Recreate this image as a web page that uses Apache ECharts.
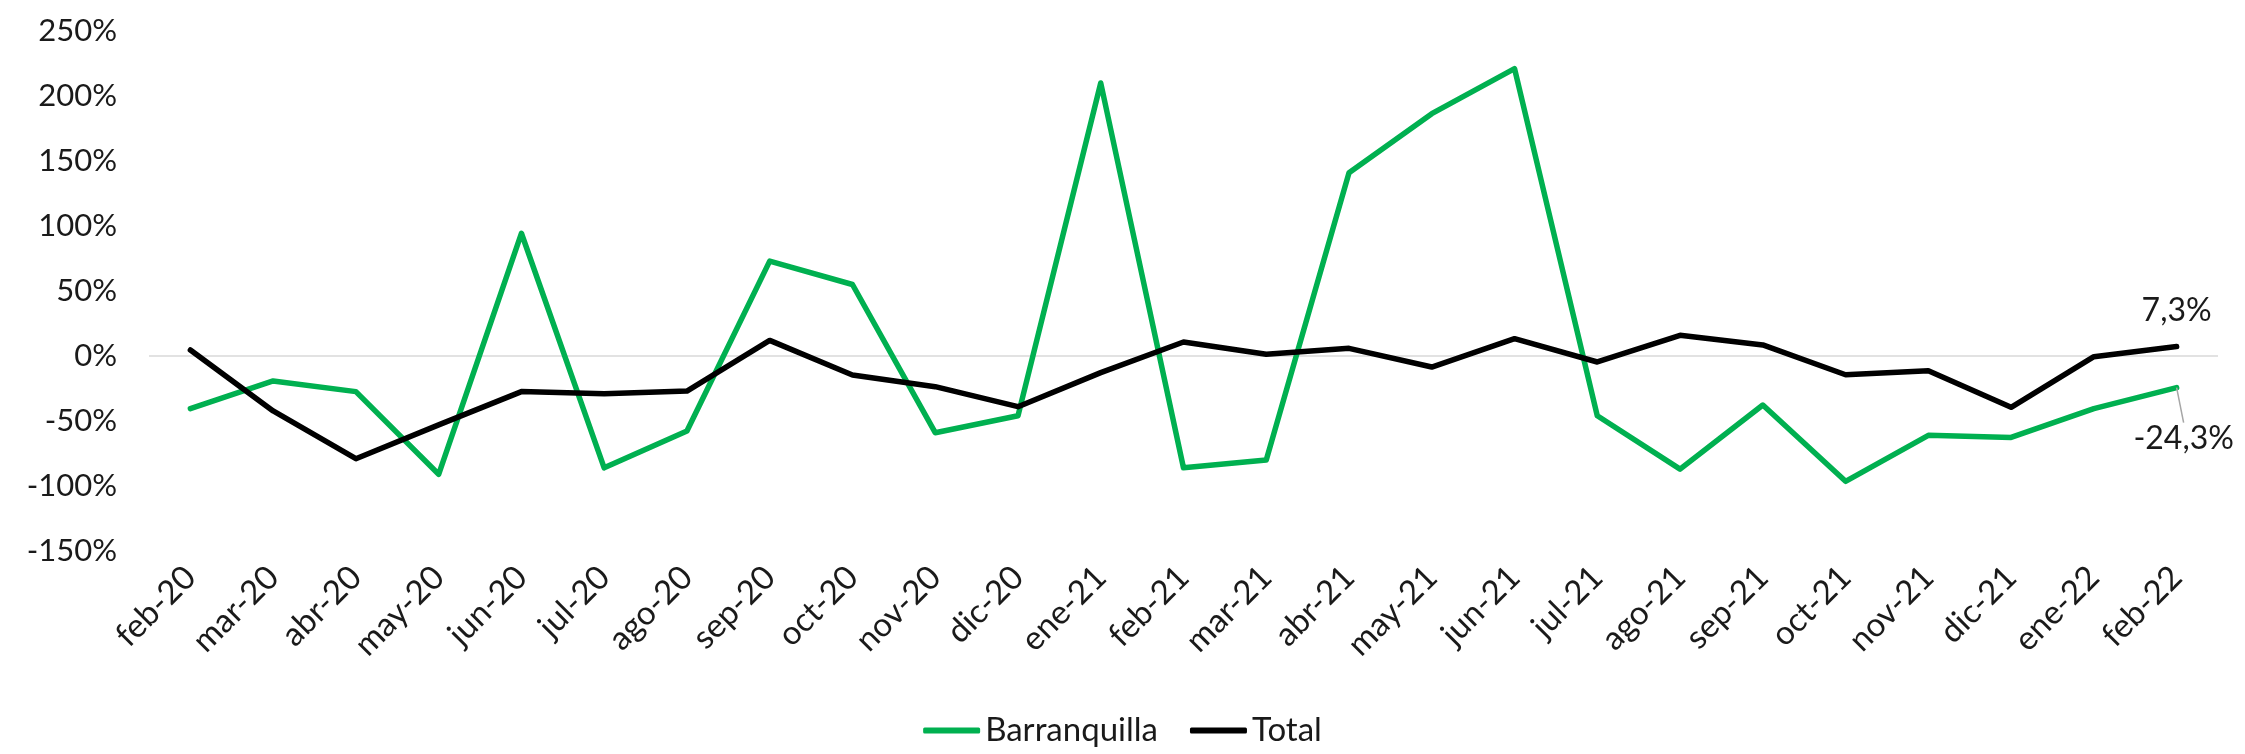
<!DOCTYPE html>
<html>
<head>
<meta charset="utf-8">
<script src="https://cdn.jsdelivr.net/npm/echarts@6/dist/echarts.min.js"></script>
<style>
  html, body { margin: 0; padding: 0; background: #ffffff; }
  #chart { width: 2245px; height: 754px; }
</style>
</head>
<body>
<div id="chart"></div>
<script>
const categories = ['feb-20','mar-20','abr-20','may-20','jun-20','jul-20','ago-20','sep-20','oct-20','nov-20','dic-20','ene-21','feb-21','mar-21','abr-21','may-21','jun-21','jul-21','ago-21','sep-21','oct-21','nov-21','dic-21','ene-22','feb-22'];
const barranquilla = [-40.5, -19.2, -27.4, -91, 94.4, -86, -57.7, 73, 55, -59, -46, 210, -86, -80, 141, 186.4, 221, -46, -87, -37.7, -96.4, -61, -62.6, -40.5, -24.3];
const total = [4.6, -42.3, -79, -53, -27.4, -29, -27, 12, -14.6, -23.6, -39, -12.8, 10.8, 1.3, 5.9, -8.5, 13.3, -4.6, 15.9, 8.5, -14.4, -11.3, -39.5, -0.5, 7.3];
const yTicks = [-150, -100, -50, 0, 50, 100, 150, 200, 250];

const FONT = 'Lato';
const TXT = '#1a1a1a';
const fmt = v => v.toFixed(1).replace('.', ',') + '%';
const lastIdx = categories.length - 1;

const splitColors = yTicks.map(t => t === 0 ? '#d9d9d9' : 'rgba(0,0,0,0)');

const chart = echarts.init(document.getElementById('chart'), null, { renderer: 'canvas' });
chart.setOption({
  backgroundColor: '#ffffff',
  animation: false,
  grid: { left: 149, right: 27, top: 31, bottom: 203, containLabel: false },
  legend: {
    bottom: 2,
    left: 'center',
    itemWidth: 57,
    itemHeight: 6,
    itemGap: 32,
    icon: 'roundRect',
    textStyle: { fontFamily: FONT, fontSize: 33, color: TXT },
    data: ['Barranquilla', 'Total']
  },
  xAxis: {
    type: 'category',
    data: categories,
    boundaryGap: true,
    axisLine: { show: false, onZero: false },
    axisTick: { show: false },
    axisLabel: {
      rotate: 45,
      interval: 0,
      margin: 21,
      fontFamily: FONT,
      fontSize: 33,
      color: TXT
    },
    splitLine: { show: false }
  },
  yAxis: {
    type: 'value',
    min: yTicks[0],
    max: yTicks[yTicks.length - 1],
    interval: 50,
    axisLine: { show: false },
    axisTick: { show: false },
    axisLabel: {
      margin: 32,
      fontFamily: FONT,
      fontSize: 31,
      color: TXT,
      formatter: '{value}%'
    },
    splitLine: { show: true, lineStyle: { color: splitColors, width: 1.5 } }
  },
  series: [
    {
      name: 'Barranquilla',
      type: 'line',
      data: barranquilla.map((v, i) => i === lastIdx ? {
        value: v,
        label: { show: true, position: 'bottom', distance: 5, formatter: p => fmt(p.value) },
        labelLine: { show: true, lineStyle: { color: '#a6a6a6', width: 1.5 } }
      } : v),
      symbol: 'circle',
      symbolSize: 0.1,
      showSymbol: true,
      color: '#00b050',
      lineStyle: { color: '#00b050', width: 5.5, cap: 'round', join: 'round' },
      label: { show: false, fontFamily: FONT, fontSize: 32, color: TXT },
      labelLayout: { dx: 7, dy: 30 },
      labelLine: { show: false },
      z: 3
    },
    {
      name: 'Total',
      type: 'line',
      data: total.map((v, i) => i === lastIdx ? {
        value: v,
        label: { show: true, position: 'top', distance: 20, formatter: p => fmt(p.value) }
      } : v),
      symbol: 'circle',
      symbolSize: 0.1,
      showSymbol: true,
      color: '#000000',
      lineStyle: { color: '#000000', width: 5.5, cap: 'round', join: 'round' },
      label: { show: false, fontFamily: FONT, fontSize: 32, color: TXT },
      z: 4
    }
  ]
});
</script>
</body>
</html>
